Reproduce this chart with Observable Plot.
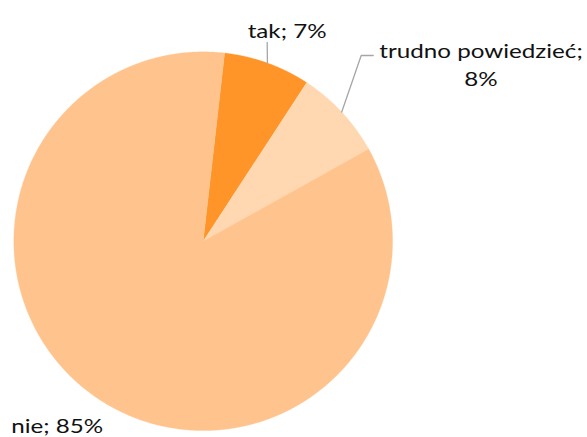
<!DOCTYPE html>
<html><head><meta charset="utf-8">
<script src="https://cdn.jsdelivr.net/npm/d3@7"></script>
<script src="https://cdn.jsdelivr.net/npm/@observablehq/plot@0.6"></script>
<style>html,body{margin:0;padding:0;background:#fff;}</style>
</head><body><div id="chart"></div>
<script>
// ---- data ----
const categories = ["tak", "trudno powiedzieć", "nie"];
const values = [7.4, 7.7, 84.9];
const labels = ["tak; 7%", "trudno powiedzieć;\n8%", "nie; 85%"];
const colors = ["#FF9429", "#FFD8B1", "#FFC48E"];

// ---- layout (pixels) ----
const W = 587, H = 437, CX = 202.7, CY = 240.7, R = 189.4;
const START = 6.5 * Math.PI / 180;
const labelPos = [[286.6, 37], [480.5, 85], [56.7, 432.3]];
const leaderBends = [[[266.7, 42]], [[360.7, 55], [372.7, 55]], null];
const FONT = "Lato, Carlito, 'Liberation Sans', sans-serif";
const FS = 20, STRETCH = 1.21;

const ux = px => (px - CX) / R;
const uy = py => (CY - py) / R;

const arcs = d3.pie().sort(null).value(d => d).startAngle(START).endAngle(START + 2 * Math.PI)(values);

const slicePolys = arcs.map((a, i) => {
  const pts = [{x: 0, y: 0}];
  const n = Math.max(2, Math.ceil((a.endAngle - a.startAngle) / (Math.PI / 720)));
  for (let k = 0; k <= n; k++) {
    const t = a.startAngle + (a.endAngle - a.startAngle) * k / n;
    pts.push({x: Math.sin(t), y: Math.cos(t)});
  }
  pts.push({x: 0, y: 0});
  return pts;
});

const leaders = arcs.map((a, i) => {
  if (!leaderBends[i]) return null;
  const m = (a.startAngle + a.endAngle) / 2;
  const pts = [{x: Math.sin(m), y: Math.cos(m)}];
  for (const [px, py] of leaderBends[i]) pts.push({x: ux(px), y: uy(py)});
  return pts;
}).filter(Boolean);

const labelData = labels.map((t, i) => ({text: t, x: ux(labelPos[i][0]), y: uy(labelPos[i][1]), cat: categories[i]}));

const chart = Plot.plot({
  width: W, height: H,
  margin: 0,
  x: {domain: [ux(0), ux(W)], axis: null},
  y: {domain: [uy(H), uy(0)], axis: null},
  style: {fontFamily: FONT, background: "#fff"},
  marks: [
    ...slicePolys.map((p, i) => Plot.line(p, {x: "x", y: "y", fill: colors[i], stroke: colors[i], strokeWidth: 0.3, curve: "linear"})),
    ...leaders.map(p => Plot.line(p, {x: "x", y: "y", stroke: "#A6A6A6", strokeWidth: 1.3, curve: "linear"})),
    Plot.text(labelData, {x: "x", y: "y", text: "text", fontSize: FS, lineAnchor: "bottom", lineHeight: 1.4, fill: "#111", textAnchor: "middle"})
  ]
});

// stretch label glyphs horizontally (reference text is horizontally stretched)
chart.querySelectorAll("g[aria-label='text'] text").forEach(t => {
  const tr = t.getAttribute("transform");
  if (tr) {
    t.setAttribute("transform", tr + ` scale(${STRETCH},1)`);
  } else {
    const x = +t.getAttribute("x") || 0;
    t.setAttribute("transform", `translate(${x * (1 - STRETCH)},0) scale(${STRETCH},1)`);
  }
});
document.getElementById("chart").appendChild(chart);
</script>
</body></html>
